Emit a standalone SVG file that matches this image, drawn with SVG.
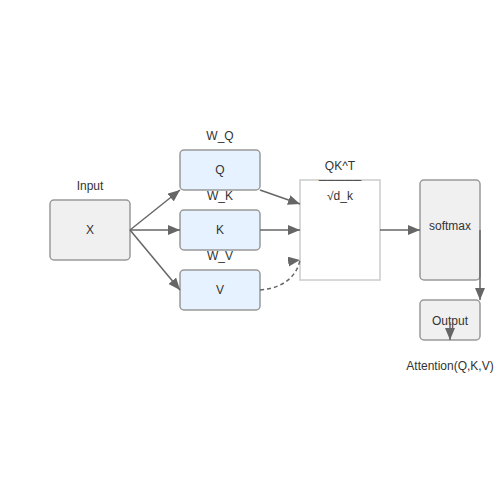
<svg xmlns="http://www.w3.org/2000/svg" width="500" height="500" viewBox="0 0 500 500">
<defs>
<marker id="arr" viewBox="0 0 12 10" refX="12" refY="5" markerWidth="12" markerHeight="10" markerUnits="userSpaceOnUse" orient="auto">
<path d="M0,0 L12,5 L0,10 z" fill="#666"/>
</marker>
<marker id="arrh" viewBox="0 0 12 10" refX="12" refY="5" markerWidth="12" markerHeight="10" markerUnits="userSpaceOnUse" orient="-8">
<path d="M0,0 L12,5 L0,10 z" fill="#666"/>
</marker>
<style>
text{font-family:"Liberation Sans",Arial,sans-serif;font-size:12px;fill:#333;text-anchor:middle}
.gray{fill:#f0f0f0;stroke:#999;stroke-width:1.5}
.blue{fill:#e6f2ff;stroke:#999;stroke-width:1.5}
.att{fill:#fff;stroke:#ccc;stroke-width:1.5}
.c{fill:none;stroke:#666;stroke-width:1.5;marker-end:url(#arr)}
.d{stroke-dasharray:4,3;marker-end:url(#arrh)}
</style>
</defs>
<rect width="500" height="500" fill="#fff"/>
<g id="node-x">
<rect class="gray" x="50" y="200" width="80" height="60" rx="4"/>
<text x="90" y="190">Input</text>
<text x="90" y="234">X</text>
</g>
<g id="node-q">
<rect class="blue" x="180" y="150" width="80" height="40" rx="4"/>
<text x="220" y="140">W_Q</text>
<text x="220" y="174">Q</text>
</g>
<g id="node-k">
<rect class="blue" x="180" y="210" width="80" height="40" rx="4"/>
<text x="220" y="200">W_K</text>
<text x="220" y="234">K</text>
</g>
<g id="node-v">
<rect class="blue" x="180" y="270" width="80" height="40" rx="4"/>
<text x="220" y="260">W_V</text>
<text x="220" y="294">V</text>
</g>
<g id="node-attention">
<rect class="att" x="300" y="180" width="80" height="100"/>
<text x="340" y="170">QK^T</text>
<text x="340" y="184">─────</text>
<text x="340" y="200">√d_k</text>
</g>
<g id="node-softmax">
<rect class="gray" x="420" y="180" width="60" height="100" rx="4"/>
<text x="450" y="230">softmax</text>
</g>
<g id="node-output">
<rect class="gray" x="420" y="300" width="60" height="40" rx="4"/>
<text x="450" y="325">Output</text>
<text x="450" y="370">Attention(Q,K,V)</text>
</g>
<g id="connectors">
<path class="c" d="M130,230 L180,190"/>
<path class="c" d="M130,230 L180,230"/>
<path class="c" d="M130,230 L180,290"/>
<path class="c" d="M260,190 L300,204"/>
<path class="c" d="M260,230 L300,230"/>
<path class="c d" d="M260,290 C285,288 297,275 300,260"/>
<path class="c" d="M380,230 L420,230"/>
<path class="c" d="M480,230 L480,300"/>
<path class="c" d="M450,322 L450,340"/>
</g>
</svg>
